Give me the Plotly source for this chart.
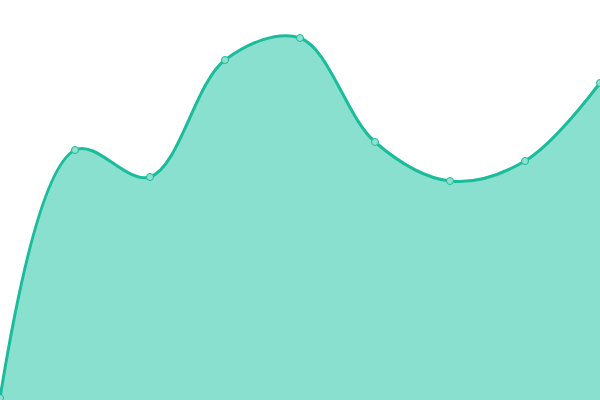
import plotly.graph_objects as go

x_vals = [0, 1, 2, 3, 4, 5, 6, 7, 8]
y_vals = [2, 250, 223, 340, 362, 258, 219, 239, 317]

fig = go.Figure()
fig.add_trace(go.Scatter(
    x=x_vals, y=y_vals,
    mode="lines+markers",
    fill="tozeroy",
    fillcolor="#8ae0cf",
    line=dict(color="#1abc9c", width=3, shape="spline", smoothing=1),
    marker=dict(size=7, color="#8ee0cf", line=dict(color="#1abc9c", width=1)),
    hoverinfo="skip",
))
fig.update_layout(
    width=600, height=400,
    margin=dict(l=0, r=0, t=0, b=0),
    paper_bgcolor="white", plot_bgcolor="white",
    showlegend=False,
    xaxis=dict(range=[0, 8], visible=False, fixedrange=True),
    yaxis=dict(range=[0, 400], visible=False, fixedrange=True),
)
fig.write_html(
    "out.html",
    config={"displayModeBar": False},
    post_script="document.body.style.margin='0';document.body.style.overflow='hidden';",
)
